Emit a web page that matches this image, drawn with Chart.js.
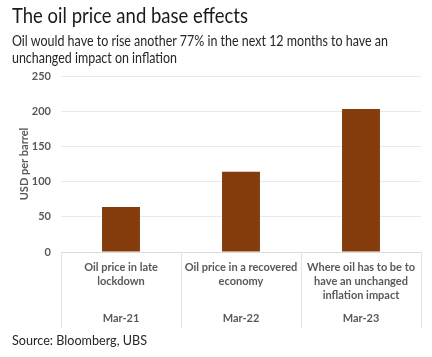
<!DOCTYPE html>
<html>
<head>
<meta charset="utf-8">
<script src="https://cdn.jsdelivr.net/npm/chart.js@4.4.0/dist/chart.umd.min.js"></script>
<style>
  html, body { margin:0; padding:0; background:#fff; }
  #wrap { position:relative; width:432px; height:357px; overflow:hidden; }
  #c { position:absolute; left:0; top:0; }
  .t { position:absolute; left:12px; white-space:nowrap; font-family:Lato, sans-serif; color:#1a1a1a; transform-origin:0 0; }
  #title { top:2px; font-size:21px; }
  #sub1 { top:31px; font-size:15px; color:#262626; }
  #sub2 { top:48px; font-size:15px; color:#262626; }
  #src { top:331px; font-size:14px; color:#262626; }
</style>
</head>
<body>
<div id="wrap">
  <canvas id="c" width="432" height="357"></canvas>
  <div class="t" id="title" data-w="236">The oil price and base effects</div>
  <div class="t" id="sub1" data-w="376">Oil would have to rise another 77% in the next 12 months to have an</div>
  <div class="t" id="sub2" data-w="165">unchanged impact on inflation</div>
  <div class="t" id="src" data-w="135">Source: Bloomberg, UBS</div>
</div>
<script>
const categories = [
  ["Oil price in late", "lockdown"],
  ["Oil price in a recovered", "economy"],
  ["Where oil has to be to", "have an unchanged", "inflation impact"]
];
const dates = ["Mar-21", "Mar-22", "Mar-23"];
const values = [64, 114, 203];
const yTicks = [0, 50, 100, 150, 200, 250];

document.querySelectorAll('.t').forEach(el => {
  const w = el.getBoundingClientRect().width;
  el.style.transform = 'scaleX(' + (parseFloat(el.dataset.w) / w) + ')';
});

const separators = {
  id: 'separators',
  afterDraw(chart) {
    const xs = chart.scales.x;
    const ctx = chart.ctx;
    const n = categories.length;
    const w = (xs.right - xs.left) / n;
    ctx.save();
    ctx.strokeStyle = '#e3e3e3';
    ctx.lineWidth = 1;
    for (let i = 0; i <= n; i++) {
      const x = Math.round(xs.left + i * w) + 0.5;
      ctx.beginPath();
      ctx.moveTo(x, chart.chartArea.bottom);
      ctx.lineTo(x, chart.chartArea.bottom + 76);
      ctx.stroke();
    }
    ctx.restore();
  }
};

const tickFont = { family: "Lato, sans-serif", size: 11, weight: 'bold' };

new Chart(document.getElementById('c'), {
  type: 'bar',
  data: {
    labels: categories,
    datasets: [{
      data: values,
      backgroundColor: '#843C0C',
      barPercentage: 0.316,
      categoryPercentage: 1.0
    }]
  },
  options: {
    responsive: false,
    animation: false,
    layout: { padding: { top: 76, right: 11, bottom: 27, left: 0 } },
    plugins: { legend: { display: false }, tooltip: { enabled: false } },
    scales: {
      y: {
        min: 0, max: 250,
        afterFit(s) { s.width = 61; },
        afterBuildTicks(s) { s.ticks = yTicks.map(v => ({ value: v })); },
        ticks: { color: '#595959', font: tickFont, padding: 10 },
        grid: { color: '#e9e9e9', drawTicks: false },
        border: { display: false },
        title: {
          display: true, text: 'USD per barrel', color: '#595959',
          font: { family: "Lato, sans-serif", size: 11, weight: 'bold' },
          padding: { top: 18, bottom: 0 }
        }
      },
      x: {
        weight: 1,
        afterFit(s) { s.height = 52; },
        ticks: { color: '#595959', font: { ...tickFont, lineHeight: '14px' }, padding: 8, maxRotation: 0, autoSkip: false },
        grid: { display: false, drawTicks: false },
        border: { display: true, color: '#dcdcdc' }
      },
      x2: {
        type: 'category',
        labels: dates,
        position: 'bottom',
        weight: 2,
        afterFit(s) { s.height = 26; },
        ticks: { color: '#595959', font: tickFont, padding: 8 },
        grid: { display: false, drawTicks: false },
        border: { display: false }
      }
    }
  },
  plugins: [separators]
});
</script>
</body>
</html>
